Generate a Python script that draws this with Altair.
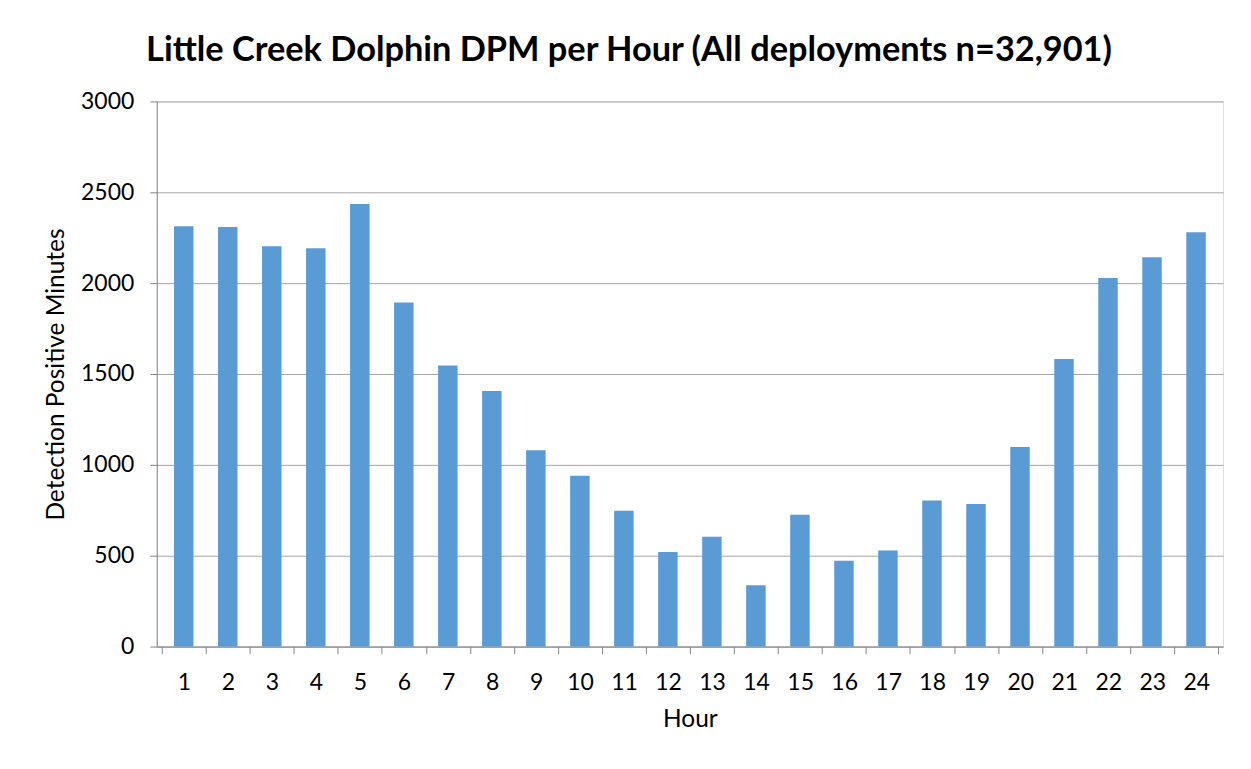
import altair as alt
import pandas as pd

hours = list(range(1, 25))
dpm = [2313, 2309, 2203, 2192, 2436, 1894, 1547, 1406, 1081, 940, 747, 521,
       604, 338, 725, 472, 529, 804, 785, 1098, 1582, 2028, 2142, 2280]
y_ticks = [0, 500, 1000, 1500, 2000, 2500, 3000]
title_text = "Little Creek Dolphin DPM per Hour (All deployments n=32,901)"

df = pd.DataFrame({"hour": hours, "dpm": dpm})
x_tick_values = [h - 0.5 for h in hours] + [hours[-1] + 0.5]

FONT = "Lato"

chart = alt.Chart(df).mark_bar(size=19.5, color="#5B9BD5").encode(
    x=alt.X(
        "hour:Q",
        scale=alt.Scale(domain=[0.5, 24.5], nice=False, zero=False),
        axis=alt.Axis(
            values=x_tick_values,
            labelExpr="datum.value < 24 ? format(datum.value + 0.5, 'd') : ''",
            labelOffset=22.25,
            labelFlush=False,
            labelOverlap=False,
            labelBound=False,
            grid=False,
            tickSize=7,
            tickColor="#868686",
            domainColor="#868686",
            labelFontSize=23,
            labelFont=FONT,
            labelColor="#000000",
            labelPadding=18,
            title="Hour",
            titleFont=FONT,
            titleFontSize=24.5,
            titleFontWeight="normal",
            titleColor="#000000",
            titleX=534,
            titleY=73,
            titleBaseline="middle",
        ),
    ),
    y=alt.Y(
        "dpm:Q",
        scale=alt.Scale(domain=[0, 3000], nice=False),
        axis=alt.Axis(
            values=y_ticks,
            format="d",
            grid=True,
            gridColor="#A6A6A6",
            gridWidth=1,
            tickSize=7,
            tickColor="#868686",
            domainColor="#868686",
            labelFontSize=23,
            labelFont=FONT,
            labelColor="#000000",
            labelPadding=16,
            title="Detection Positive Minutes",
            titleFont=FONT,
            titleFontSize=24.5,
            titleFontWeight="normal",
            titleColor="#000000",
            titleX=-100,
            titleY=273,
            titleBaseline="middle",
        ),
    ),
).properties(
    width=1068,
    height=546,
    title=alt.TitleParams(
        text=title_text,
        font=FONT,
        fontSize=34.4,
        fontWeight="bold",
        color="#000000",
        anchor="middle",
        dx=-61,
        dy=43,
        offset=38,
        baseline="alphabetic",
    ),
    autosize=alt.AutoSizeParams(type="none"),
    padding={"left": 149, "top": 93, "right": 20, "bottom": 100},
).configure_view(stroke=None).configure(background="white")

chart.save("out.html", embed_options={"renderer": "svg", "actions": False})
